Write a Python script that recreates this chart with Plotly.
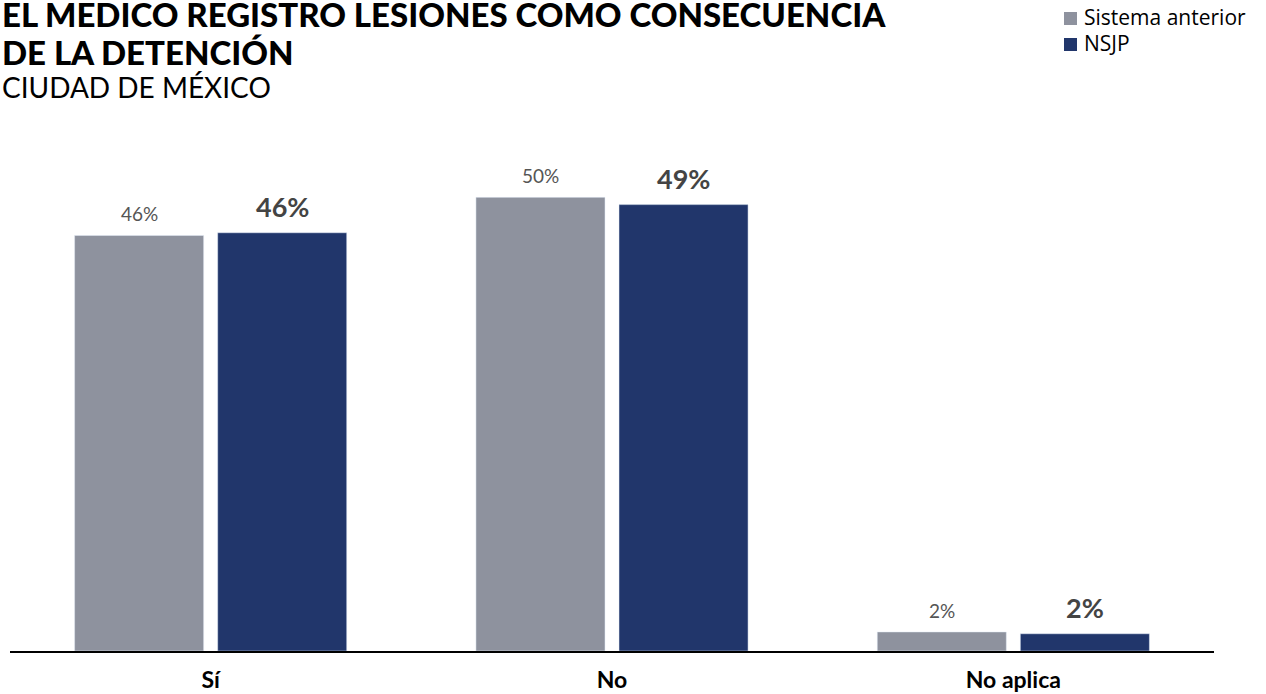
import plotly.graph_objects as go

# datos
categorias = ["Sí", "No", "No aplica"]
sistema_anterior = [45.8, 50.0, 2.1]
nsjp = [46.1, 49.2, 1.9]
etiquetas_anterior = ["46%", "50%", "2%"]
etiquetas_nsjp = ["46%", "49%", "2%"]
series = ["Sistema anterior", "NSJP"]

GRIS = "#8e929e"
AZUL = "#21366b"

fig = go.Figure()
fig.add_trace(go.Bar(x=categorias, y=sistema_anterior, name=series[0],
                     marker_color=GRIS, hoverinfo="skip"))
fig.add_trace(go.Bar(x=categorias, y=nsjp, name=series[1],
                     marker_color=AZUL, hoverinfo="skip"))

# etiquetas de valor sobre las barras
anns = []
for c, v, t in zip(categorias, sistema_anterior, etiquetas_anterior):
    anns.append(dict(x=c, y=v, text=t, xshift=-71.5, yshift=8, yanchor="bottom",
                     showarrow=False, font=dict(family="Lato", size=19, color="#555555")))
for c, v, t in zip(categorias, nsjp, etiquetas_nsjp):
    anns.append(dict(x=c, y=v, text=t, xshift=71.5, yshift=8, yanchor="bottom",
                     showarrow=False, font=dict(family="Lato", size=27, color="#444444", weight="bold")))

# posiciones en px de la pagina -> coordenadas paper
def px(X):
    return (X - 10) / 1204

def py(Y):
    return (651 - Y) / 499

anns.append(dict(xref="paper", yref="paper", x=px(0), xanchor="left",
                 y=py(14), yanchor="middle", showarrow=False,
                 text="EL MEDICO REGISTRO LESIONES COMO CONSECUENCIA",
                 font=dict(family="Lato", size=33, color="#000000", weight=900)))
anns.append(dict(xref="paper", yref="paper", x=px(0), xanchor="left",
                 y=py(52), yanchor="middle", showarrow=False,
                 text="DE LA DETENCIÓN",
                 font=dict(family="Lato", size=33, color="#000000", weight=900)))
anns.append(dict(xref="paper", yref="paper", x=px(0), xanchor="left",
                 y=py(87), yanchor="middle", showarrow=False,
                 text="CIUDAD DE MÉXICO",
                 font=dict(family="Lato", size=28, color="#000000")))

# leyenda
shapes = []
for i, (nombre, col) in enumerate(zip(series, [GRIS, AZUL])):
    y0 = 12 + i * 26
    shapes.append(dict(type="rect", xref="paper", yref="paper", line_width=0,
                       x0=px(1064), x1=px(1077), y0=py(y0 + 13), y1=py(y0), fillcolor=col))
    anns.append(dict(xref="paper", yref="paper", x=px(1082), xanchor="left",
                     y=py(y0 + 5), yanchor="middle", showarrow=False, text=nombre,
                     font=dict(family="Open Sans", size=21, color="#000000")))

fig.update_layout(
    width=1266, height=694,
    margin=dict(l=10, r=52, t=152, b=43),
    plot_bgcolor="white", paper_bgcolor="white",
    barmode="group", bargap=0.287, bargroupgap=0.098,
    showlegend=False,
    annotations=anns, shapes=shapes,
    xaxis=dict(showline=True, linecolor="#000000", linewidth=2, showgrid=False,
               automargin=False,
               ticks="outside", ticklen=7, tickcolor="rgba(0,0,0,0)",
               tickfont=dict(family="Lato", size=23, color="#000000", weight="bold")),
    yaxis=dict(range=[0, 55], visible=False, showgrid=False, automargin=False),
)

fig.write_html("out.html", config={"displayModeBar": False},
               post_script="document.body.style.margin='0';")
